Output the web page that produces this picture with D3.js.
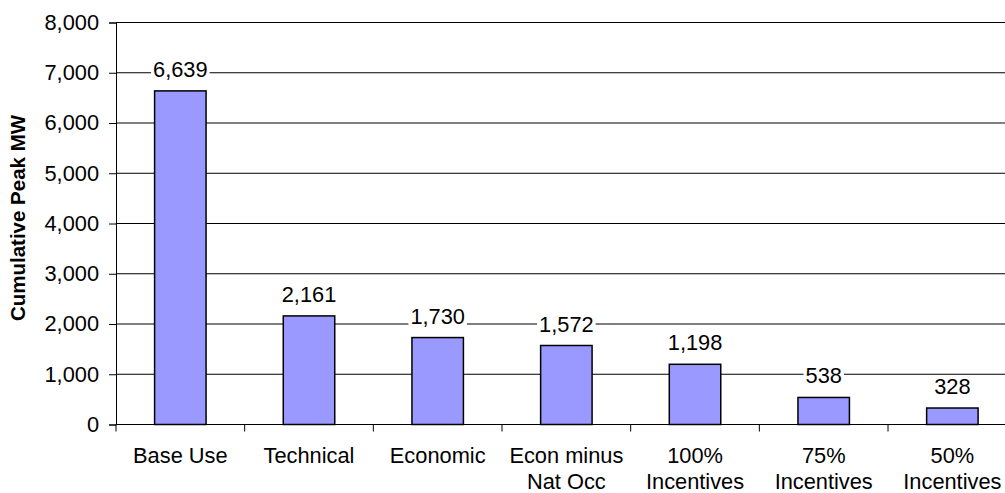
<!DOCTYPE html>
<html>
<head>
<meta charset="utf-8">
<script src="https://cdn.jsdelivr.net/npm/d3@7"></script>
<style>
  html, body { margin: 0; padding: 0; background: #fff; }
  svg { display: block; font-family: "Liberation Sans", Arial, sans-serif; }
</style>
</head>
<body>
<svg id="chart" width="1005" height="493"></svg>
<script>
// Cumulative peak MW savings by potential scenario
const categories = ["Base Use", "Technical", "Economic", "Econ minus\nNat Occ", "100%\nIncentives", "75%\nIncentives", "50%\nIncentives"];
const peakMW = [6639, 2161, 1730, 1572, 1198, 538, 328];
const yTicks = [0, 1000, 2000, 3000, 4000, 5000, 6000, 7000, 8000];
const yTitle = "Cumulative Peak MW";

const svg = d3.select("#chart");
const plotLeft = 116, plotTop = 22.5, plotBottom = 424.5, plotRight = 1016.7;
const fontSize = 21.8;

const x = d3.scaleBand()
  .domain(categories)
  .range([plotLeft, plotRight])
  .paddingInner(0.6)
  .paddingOuter(0.3);

const y = d3.scaleLinear().domain([0, 8000]).range([plotBottom, plotTop]);
const fmt = d3.format(",");

// horizontal gridlines
svg.append("g")
  .selectAll("line")
  .data(yTicks.filter(t => t > 0))
  .join("line")
  .attr("x1", plotLeft).attr("x2", plotRight)
  .attr("y1", d => y(d)).attr("y2", d => y(d))
  .attr("stroke", "#000").attr("stroke-width", 1);

// bars
svg.append("g")
  .selectAll("rect")
  .data(peakMW)
  .join("rect")
  .attr("x", (d, i) => x(categories[i]))
  .attr("width", x.bandwidth())
  .attr("y", d => y(d))
  .attr("height", d => y(0) - y(d))
  .attr("fill", "#9999FF")
  .attr("stroke", "#000")
  .attr("stroke-width", 1.5);

// y axis
const yAxis = svg.append("g")
  .attr("transform", `translate(${plotLeft},0)`)
  .call(d3.axisLeft(y).tickValues(yTicks).tickFormat(fmt).tickSize(7).tickPadding(10));
yAxis.select(".domain").attr("stroke", "#000");
yAxis.selectAll(".tick line").attr("stroke", "#000");
yAxis.selectAll("text")
  .attr("font-size", fontSize).attr("fill", "#000")
  .attr("font-family", "Liberation Sans, Arial, sans-serif");

// x axis with ticks on category boundaries
const step = x.step();
const boundaries = d3.range(categories.length + 1).map(i => plotLeft + i * step);
svg.append("line")
  .attr("x1", plotLeft).attr("x2", plotRight)
  .attr("y1", plotBottom).attr("y2", plotBottom)
  .attr("stroke", "#000").attr("stroke-width", 1);
svg.append("g")
  .selectAll("line")
  .data(boundaries)
  .join("line")
  .attr("x1", d => d).attr("x2", d => d)
  .attr("y1", plotBottom).attr("y2", plotBottom + 7)
  .attr("stroke", "#000");

// category labels (may wrap to two lines)
svg.append("g")
  .selectAll("text")
  .data(categories)
  .join("text")
  .attr("text-anchor", "middle")
  .attr("font-size", fontSize)
  .attr("fill", "#000")
  .attr("transform", d => `translate(${x(d) + x.bandwidth() / 2},463)`)
  .each(function (d) {
    const lines = d.split("\n");
    d3.select(this).selectAll("tspan")
      .data(lines)
      .join("tspan")
      .attr("x", 0)
      .attr("y", (l, i) => i * 26)
      .text(l => l);
  });

// value labels with white backing
const labels = svg.append("g")
  .selectAll("g")
  .data(peakMW)
  .join("g")
  .attr("transform", (d, i) => `translate(${x(categories[i]) + x.bandwidth() / 2},${y(d) - 14})`);
labels.append("rect").attr("fill", "#fff");
labels.append("text")
  .attr("text-anchor", "middle")
  .attr("font-size", fontSize)
  .attr("fill", "#000")
  .text(d => fmt(d));
labels.each(function () {
  const g = d3.select(this);
  const b = g.select("text").node().getBBox();
  g.select("rect")
    .attr("x", b.x - 2).attr("y", b.y + 2)
    .attr("width", b.width + 4).attr("height", b.height - 2);
});

// y axis title
svg.append("text")
  .attr("transform", "translate(25,218) rotate(-90)")
  .attr("text-anchor", "middle")
  .attr("font-size", 20.5)
  .attr("font-weight", "bold")
  .attr("fill", "#000")
  .text(yTitle);
</script>
</body>
</html>
